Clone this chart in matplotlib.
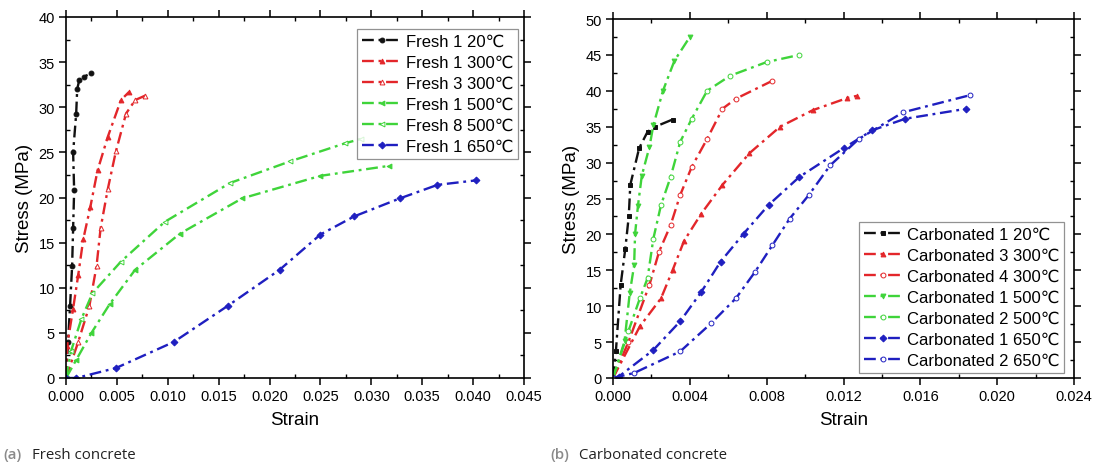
import matplotlib.pyplot as plt
from matplotlib.ticker import MultipleLocator

plt.rcParams['font.family'] = ['Liberation Sans', 'DejaVu Sans']

# (a) fresh concrete
f20_x = [0, 0.0002, 0.0004, 0.0006, 0.0007, 0.0008, 0.0007, 0.0010, 0.0011, 0.0013, 0.0018, 0.0025]
f20_y = [0, 4, 8, 12.4, 16.6, 20.8, 25, 29.3, 32, 33, 33.4, 33.8]
f1_300_x = [0, 0.0001, 0.0007, 0.0012, 0.0017, 0.0024, 0.0031, 0.0041, 0.0054, 0.0062]
f1_300_y = [0, 3.5, 7.7, 11.4, 15.4, 19, 23, 26.7, 30.8, 31.7]
f3_300_x = [0, 0.0012, 0.0023, 0.0030, 0.0034, 0.0041, 0.0049, 0.0059, 0.0068, 0.0078]
f3_300_y = [0, 4, 8, 12.4, 16.6, 20.9, 25.1, 29.3, 30.8, 31.3]
f1_500_x = [0, 0.001, 0.0025, 0.0043, 0.0068, 0.0112, 0.0173, 0.025, 0.0317]
f1_500_y = [0, 2, 5, 8.2, 12, 16, 19.9, 22.4, 23.5]
f8_500_x = [0, 0.0005, 0.0015, 0.0026, 0.0054, 0.0097, 0.0161, 0.0220, 0.0274, 0.0290]
f8_500_y = [0, 3, 6.5, 9.4, 12.9, 17.3, 21.6, 24.0, 26, 26.5]
f1_650_x = [0, 0.001, 0.0049, 0.0106, 0.0159, 0.021, 0.025, 0.0283, 0.0328, 0.0365, 0.0403]
f1_650_y = [0, 0, 1.1, 4, 8, 12, 15.9, 17.9, 19.9, 21.4, 21.9]

# (b) carbonated concrete
c20_x = [0, 0.00015, 0.0004, 0.00064, 0.00082, 0.0009, 0.00136, 0.0018, 0.0022, 0.0031]
c20_y = [0, 3.7, 13, 18, 22.5, 26.9, 32, 34.3, 35, 36]
c3_300_x = [0, 0.0014, 0.0025, 0.0031, 0.0037, 0.0046, 0.0057, 0.0071, 0.0087, 0.0104, 0.0122, 0.0127]
c3_300_y = [0, 7.2, 11.1, 15, 19.1, 22.9, 26.9, 31.3, 35, 37.3, 39, 39.3]
c4_300_x = [0, 0.0008, 0.0019, 0.0024, 0.0030, 0.0035, 0.0041, 0.0049, 0.0057, 0.0064, 0.0083]
c4_300_y = [0, 5, 13, 17.6, 21.3, 25.5, 29.4, 33.3, 37.5, 38.9, 41.4]
c1_500_x = [0, 0.0006, 0.00087, 0.0011, 0.00115, 0.0013, 0.0015, 0.0019, 0.0021, 0.0026, 0.0032, 0.0040]
c1_500_y = [0, 5.1, 11.8, 15.7, 20.1, 24, 28.2, 32.2, 35.2, 40, 44.2, 47.5]
c2_500_x = [0, 0.0008, 0.0014, 0.0018, 0.0021, 0.0025, 0.0030, 0.0035, 0.0041, 0.0049, 0.0061, 0.0080, 0.0097]
c2_500_y = [0, 6.5, 11.1, 13.9, 19.4, 24.1, 28, 32.9, 36.1, 40, 42.1, 44, 45]
c1_650_x = [0, 0.0003, 0.0021, 0.0035, 0.0046, 0.0056, 0.0068, 0.0081, 0.0097, 0.0120, 0.0135, 0.0152, 0.0184]
c1_650_y = [0, 0.2, 3.9, 7.9, 12, 16.2, 20.1, 24.1, 28, 32, 34.5, 36.1, 37.5]
c2_650_x = [0, 0.0011, 0.0035, 0.0051, 0.0064, 0.0074, 0.0083, 0.0092, 0.0102, 0.0113, 0.0128, 0.0151, 0.0186]
c2_650_y = [0, 0.7, 3.7, 7.6, 11.1, 14.8, 18.5, 22.2, 25.5, 29.6, 33.3, 37, 39.4]

BLACK, RED, GREEN, BLUE = '#111111', '#e3262a', '#3fd43a', '#1f1fc0'
ls = (0, (5, 2, 1.2, 2))

fig = plt.figure(figsize=(10.96, 4.64), dpi=100)
ax1 = fig.add_axes([66 / 1096, 1 - 379 / 464, 458 / 1096, 361 / 464])
ax2 = fig.add_axes([613 / 1096, 1 - 379 / 464, 461 / 1096, 359 / 464])


def curve(ax, x, y, color, marker, label, filled=True):
    ax.plot(x, y, linestyle=ls, lw=1.7, color=color, marker=marker, ms=3.5,
            mfc=color if filled else 'white', mec=color, mew=0.7, label=label)


curve(ax1, f20_x, f20_y, BLACK, 'o', 'Fresh 1 20℃')
curve(ax1, f1_300_x, f1_300_y, RED, '^', 'Fresh 1 300℃')
curve(ax1, f3_300_x, f3_300_y, RED, '^', 'Fresh 3 300℃', False)
curve(ax1, f1_500_x, f1_500_y, GREEN, '<', 'Fresh 1 500℃')
curve(ax1, f8_500_x, f8_500_y, GREEN, '<', 'Fresh 8 500℃', False)
curve(ax1, f1_650_x, f1_650_y, BLUE, 'D', 'Fresh 1 650℃')

curve(ax2, c20_x, c20_y, BLACK, 's', 'Carbonated 1 20℃')
curve(ax2, c3_300_x, c3_300_y, RED, '^', 'Carbonated 3 300℃')
curve(ax2, c4_300_x, c4_300_y, RED, 'o', 'Carbonated 4 300℃', False)
curve(ax2, c1_500_x, c1_500_y, GREEN, 'v', 'Carbonated 1 500℃')
curve(ax2, c2_500_x, c2_500_y, GREEN, 'o', 'Carbonated 2 500℃', False)
curve(ax2, c1_650_x, c1_650_y, BLUE, 'D', 'Carbonated 1 650℃')
curve(ax2, c2_650_x, c2_650_y, BLUE, 'o', 'Carbonated 2 650℃', False)

ax1.set_xlim(0, 0.045)
ax1.set_ylim(0, 40)
ax1.xaxis.set_major_locator(MultipleLocator(0.005))
ax1.xaxis.set_minor_locator(MultipleLocator(0.0025))
ax1.set_xticklabels([f'{v:.3f}' for v in ax1.get_xticks()])
ax2.set_xlim(0, 0.024)
ax2.set_ylim(0, 50)
ax2.xaxis.set_major_locator(MultipleLocator(0.004))
ax2.xaxis.set_minor_locator(MultipleLocator(0.002))
ax2.set_xticklabels([f'{v:.3f}' for v in ax2.get_xticks()])

for ax in (ax1, ax2):
    ax.yaxis.set_major_locator(MultipleLocator(5))
    ax.yaxis.set_minor_locator(MultipleLocator(2.5))
    ax.tick_params(which='major', direction='out', length=5, width=1.1,
                   top=True, right=True, labelsize=10.5, pad=3)
    ax.tick_params(which='minor', direction='in', length=3, width=1,
                   top=True, right=True)
    for s in ax.spines.values():
        s.set_linewidth(1.2)
    ax.set_xlabel('Strain', fontsize=13.5, labelpad=6)
    ax.set_ylabel('Stress (MPa)', fontsize=13.5, labelpad=4)

leg_kw = dict(fontsize=12, frameon=True, fancybox=False, edgecolor='#777777',
              handlelength=2.3, handletextpad=0.3, labelspacing=0.36,
              borderpad=0.3, borderaxespad=0.3)
l1 = ax1.legend(loc='upper right', bbox_to_anchor=(0.998, 0.98), **leg_kw)
l2 = ax2.legend(loc='lower right', bbox_to_anchor=(0.99, 0.0), **leg_kw)
for l in (l1, l2):
    l.get_frame().set_linewidth(0.9)
    l.set_zorder(5)

cap = dict(family=['Open Sans', 'DejaVu Sans'], fontsize=10.8, va='baseline')
fig.text(3 / 1096, 1 - 459 / 464, '(a)', color='#8a8a8a', weight='semibold', **cap)
fig.text(32 / 1096, 1 - 459 / 464, 'Fresh concrete', color='#222222', **cap)
fig.text(550 / 1096, 1 - 459 / 464, '(b)', color='#8a8a8a', weight='semibold', **cap)
fig.text(579 / 1096, 1 - 459 / 464, 'Carbonated concrete', color='#222222', **cap)

fig.savefig('out.png', dpi=100)
